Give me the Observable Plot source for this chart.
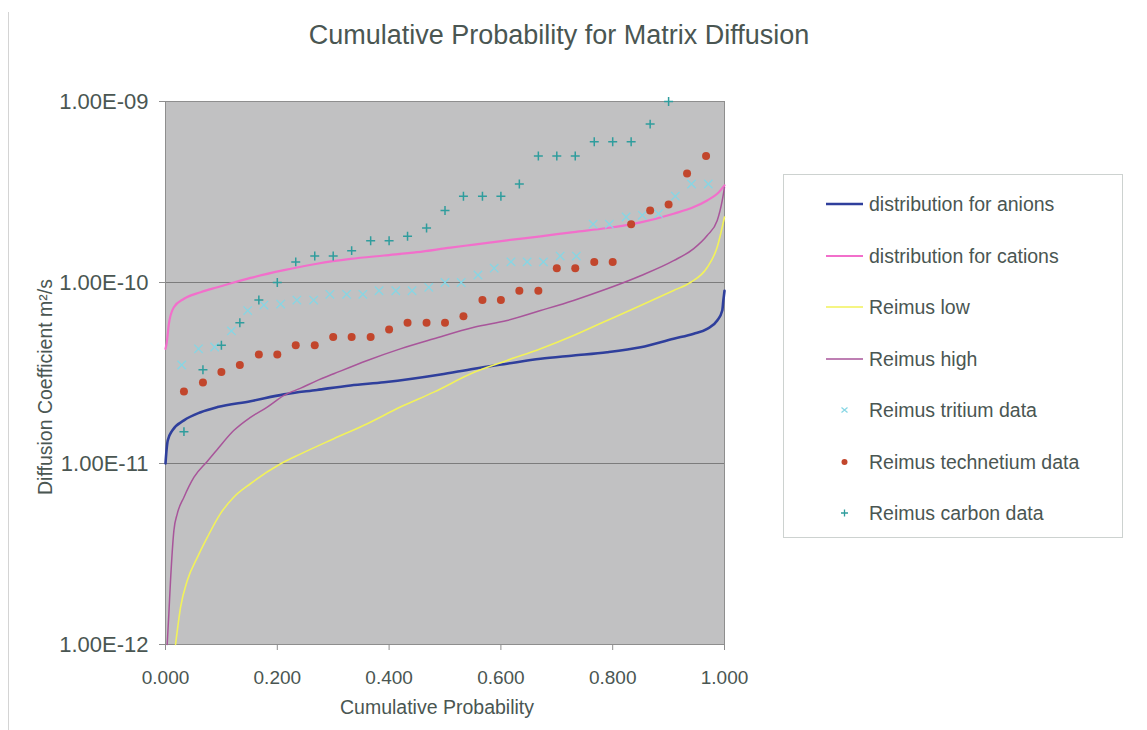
<!DOCTYPE html>
<html>
<head>
<meta charset="utf-8">
<script src="https://cdn.jsdelivr.net/npm/d3@7"></script>
<script src="https://cdn.jsdelivr.net/npm/@observablehq/plot@0.6"></script>
<style>
  body { margin: 0; background: #fff; font-family: "Liberation Sans", Arial, sans-serif; }
  #wrap { position: relative; width: 1147px; height: 730px; overflow: hidden; background: #fff; }
  #edge { position: absolute; left: 8px; top: 12px; width: 0; height: 730px; border-left: 1px solid #d4d4d4; }
  #title { position: absolute; left: 0; top: 20px; width: 1118px; text-align: center; font-size: 27px; color: #4a5652; }
  #chart { position: absolute; left: 0; top: 0; }
  #legend { position: absolute; left: 783px; top: 174px; width: 338px; height: 362px; border: 1px solid #cdd2d0; }
  .row { position: absolute; left: 0; height: 24px; }
  .row svg { position: absolute; left: 42px; top: 2px; }
  .row span { position: absolute; left: 85px; top: 0; font-size: 19.5px; line-height: 24px; white-space: nowrap; color: #4a5652; }
</style>
</head>
<body>
<div id="wrap">
  <div id="edge"></div>
  <div id="title">Cumulative Probability for Matrix Diffusion</div>
  <div id="chart"></div>
  <div id="legend"></div>
</div>
<script>
// Fitted distributions: cumulative probability vs diffusion coefficient (m²/s)
const anionP = [0, 0.002, 0.004, 0.012, 0.033, 0.063, 0.093, 0.152, 0.212, 0.271, 0.331, 0.391, 0.492, 0.552, 0.611, 0.671, 0.730, 0.790, 0.850, 0.909, 0.945, 0.969, 0.987, 0.996, 0.998, 1.0];
const anionD = [1.0e-11, 1.2e-11, 1.34e-11, 1.52e-11, 1.73e-11, 1.92e-11, 2.05e-11, 2.21e-11, 2.41e-11, 2.55e-11, 2.70e-11, 2.81e-11, 3.10e-11, 3.34e-11, 3.56e-11, 3.79e-11, 3.95e-11, 4.12e-11, 4.39e-11, 4.89e-11, 5.21e-11, 5.55e-11, 6.17e-11, 7.0e-11, 8.0e-11, 9.0e-11];

const cationP = [0, 0.002, 0.006, 0.015, 0.033, 0.063, 0.093, 0.122, 0.152, 0.212, 0.271, 0.331, 0.391, 0.450, 0.510, 0.552, 0.611, 0.671, 0.730, 0.790, 0.850, 0.909, 0.945, 0.969, 0.987, 1.0];
const cationD = [4.3e-11, 4.6e-11, 5.9e-11, 7.3e-11, 8.13e-11, 8.84e-11, 9.42e-11, 1.0e-10, 1.06e-10, 1.17e-10, 1.27e-10, 1.35e-10, 1.41e-10, 1.47e-10, 1.56e-10, 1.62e-10, 1.71e-10, 1.80e-10, 1.90e-10, 2.0e-10, 2.15e-10, 2.40e-10, 2.61e-10, 2.84e-10, 3.09e-10, 3.44e-10];

const lowP = [0.018, 0.027, 0.039, 0.057, 0.075, 0.098, 0.122, 0.152, 0.206, 0.242, 0.301, 0.361, 0.420, 0.480, 0.552, 0.611, 0.671, 0.730, 0.790, 0.850, 0.909, 0.939, 0.969, 0.987, 1.0];
const lowD = [1.0e-12, 1.61e-12, 2.26e-12, 3.03e-12, 3.92e-12, 5.27e-12, 6.51e-12, 7.73e-12, 9.96e-12, 1.13e-11, 1.37e-11, 1.66e-11, 2.05e-11, 2.48e-11, 3.19e-11, 3.71e-11, 4.30e-11, 5.09e-11, 6.17e-11, 7.46e-11, 9.04e-11, 1.0e-10, 1.21e-10, 1.57e-10, 2.30e-10];

const highP = [0.003, 0.006, 0.009, 0.015, 0.021, 0.033, 0.051, 0.075, 0.093, 0.122, 0.152, 0.182, 0.212, 0.242, 0.271, 0.301, 0.361, 0.420, 0.480, 0.552, 0.611, 0.671, 0.730, 0.790, 0.850, 0.909, 0.945, 0.969, 0.987, 0.996, 1.0];
const highD = [1.0e-12, 1.48e-12, 2.26e-12, 4.26e-12, 5.27e-12, 6.51e-12, 8.4e-12, 1.03e-11, 1.2e-11, 1.52e-11, 1.80e-11, 2.05e-11, 2.38e-11, 2.61e-11, 2.87e-11, 3.13e-11, 3.71e-11, 4.30e-11, 4.89e-11, 5.66e-11, 6.17e-11, 7.0e-11, 7.96e-11, 9.23e-11, 1.09e-10, 1.32e-10, 1.54e-10, 1.82e-10, 2.2e-10, 2.84e-10, 3.35e-10];

// Measured data (Reimus)
const tritiumP = [0.029, 0.059, 0.088, 0.118, 0.147, 0.176, 0.206, 0.235, 0.265, 0.294, 0.324, 0.353, 0.382, 0.412, 0.441, 0.471, 0.500, 0.529, 0.559, 0.588, 0.618, 0.647, 0.676, 0.706, 0.735, 0.765, 0.794, 0.824, 0.853, 0.882, 0.912, 0.941, 0.971];
const tritiumD = [3.5e-11, 4.3e-11, 4.4e-11, 5.4e-11, 7.0e-11, 7.5e-11, 7.6e-11, 8.0e-11, 8.0e-11, 8.6e-11, 8.6e-11, 8.6e-11, 9.0e-11, 9.0e-11, 9.0e-11, 9.4e-11, 1.0e-10, 1.0e-10, 1.1e-10, 1.2e-10, 1.3e-10, 1.3e-10, 1.3e-10, 1.4e-10, 1.4e-10, 2.1e-10, 2.1e-10, 2.3e-10, 2.35e-10, 2.4e-10, 3.0e-10, 3.5e-10, 3.5e-10];

const techP = [0.033, 0.067, 0.100, 0.133, 0.167, 0.200, 0.233, 0.267, 0.300, 0.333, 0.367, 0.400, 0.433, 0.467, 0.500, 0.533, 0.567, 0.600, 0.633, 0.667, 0.700, 0.733, 0.767, 0.800, 0.833, 0.867, 0.900, 0.933, 0.967];
const techD = [2.5e-11, 2.8e-11, 3.2e-11, 3.5e-11, 4.0e-11, 4.0e-11, 4.5e-11, 4.5e-11, 5.0e-11, 5.0e-11, 5.0e-11, 5.5e-11, 6.0e-11, 6.0e-11, 6.0e-11, 6.5e-11, 8.0e-11, 8.0e-11, 9.0e-11, 9.0e-11, 1.2e-10, 1.2e-10, 1.3e-10, 1.3e-10, 2.1e-10, 2.5e-10, 2.7e-10, 4.0e-10, 5.0e-10];

const carbonP = [0.033, 0.067, 0.100, 0.133, 0.167, 0.200, 0.233, 0.267, 0.300, 0.333, 0.367, 0.400, 0.433, 0.467, 0.500, 0.533, 0.567, 0.600, 0.633, 0.667, 0.700, 0.733, 0.767, 0.800, 0.833, 0.867, 0.900];
const carbonD = [1.5e-11, 3.3e-11, 4.5e-11, 6.0e-11, 8.0e-11, 1.0e-10, 1.3e-10, 1.4e-10, 1.4e-10, 1.5e-10, 1.7e-10, 1.7e-10, 1.8e-10, 2.0e-10, 2.5e-10, 3.0e-10, 3.0e-10, 3.0e-10, 3.5e-10, 5.0e-10, 5.0e-10, 5.0e-10, 6.0e-10, 6.0e-10, 6.0e-10, 7.5e-10, 1.0e-9];

// Axes
const xTicks = [0, 0.2, 0.4, 0.6, 0.8, 1.0];
const yTicks = [1e-12, 1e-11, 1e-10, 1e-9];
const yGrid = [1e-11, 1e-10];
const xTitle = "Cumulative Probability";
const yTitle = "Diffusion Coefficient m²/s";

const seriesNames = ["distribution for anions", "distribution for cations", "Reimus low", "Reimus high", "Reimus tritium data", "Reimus technetium data", "Reimus carbon data"];
const seriesColors = ["#2f3f9c", "#f26fcb", "#f2f25a", "#a8559a", "#86d6e4", "#c2462c", "#2f9d9d"];

const textColor = "#4a5652";
const sciFmt = d => {
  const e = Math.round(Math.log10(d));
  return "1.00E" + (e < 0 ? "-" : "+") + String(Math.abs(e)).padStart(2, "0");
};

const lineOf = (P, D, color, width) =>
  Plot.line(D, {x: (d, i) => P[i], y: d => d, stroke: color, strokeWidth: width, curve: "monotone-x"});

const chart = Plot.plot({
  width: 760,
  height: 730,
  marginLeft: 165,
  marginRight: 36,
  marginTop: 101,
  marginBottom: 86,
  style: {fontFamily: "'Liberation Sans', Arial, sans-serif", fontSize: "19px", color: textColor, background: "transparent", overflow: "visible"},
  x: {domain: [0, 1]},
  y: {type: "log", domain: [1e-12, 1e-9]},
  marks: [
    Plot.frame({fill: "#c1c1c2", stroke: "none"}),
    Plot.ruleY(yGrid, {stroke: "#7c7c7c", strokeWidth: 1}),
    Plot.frame({stroke: "#8e8e8e", strokeWidth: 1}),
    Plot.axisY({ticks: yTicks, tickFormat: sciFmt, tickSize: 6, tickPadding: 11, stroke: "#8e8e8e", fill: textColor, fontSize: 22, label: null}),
    Plot.axisX({ticks: xTicks, tickFormat: d3.format(".3f"), tickSize: 6, tickPadding: 20, stroke: "#8e8e8e", fill: textColor, label: null}),
    lineOf(anionP, anionD, seriesColors[0], 2.6),
    lineOf(cationP, cationD, seriesColors[1], 2.2),
    lineOf(lowP, lowD, seriesColors[2], 1.6),
    lineOf(highP, highD, seriesColors[3], 1.5),
    Plot.dot(tritiumD, {x: (d, i) => tritiumP[i], y: d => d, symbol: "times", r: 3.9, stroke: seriesColors[4], strokeWidth: 1.3}),
    Plot.dot(techD, {x: (d, i) => techP[i], y: d => d, symbol: "circle", r: 4, fill: seriesColors[5], stroke: "none"}),
    Plot.dot(carbonD, {x: (d, i) => carbonP[i], y: d => d, symbol: "plus", r: 3, stroke: seriesColors[6], strokeWidth: 1.5}),
    Plot.text([yTitle], {frameAnchor: "left", textAnchor: "middle", rotate: -90, dx: -120, dy: 14, fontSize: 19.5, fill: textColor}),
    Plot.text([xTitle], {frameAnchor: "bottom", dy: 69, dx: -8, fontSize: 19.5, fill: textColor})
  ]
});
document.getElementById("chart").appendChild(chart);

// Legend
const legend = document.getElementById("legend");
const kinds = ["line", "line", "line", "line", "times", "circle", "plus"];
seriesNames.forEach((name, i) => {
  const row = document.createElement("div");
  row.className = "row";
  row.style.top = (17 + i * 51.5) + "px";
  const c = seriesColors[i];
  let sw = "";
  if (kinds[i] === "line") {
    const w = i === 0 ? 2.6 : i === 1 ? 2.2 : 1.6;
    sw = `<line x1="0" y1="10" x2="37" y2="10" stroke="${c}" stroke-width="${w}"/>`;
  } else if (kinds[i] === "times") {
    sw = `<path d="M15.5,7.5L21.5,12.5M15.5,12.5L21.5,7.5" stroke="${c}" stroke-width="1.2"/>`;
  } else if (kinds[i] === "circle") {
    sw = `<circle cx="18.5" cy="10" r="3" fill="${c}"/>`;
  } else {
    sw = `<path d="M15,10H22M18.5,6.5V13.5" stroke="${c}" stroke-width="1.3"/>`;
  }
  row.innerHTML = `<svg width="40" height="20">${sw}</svg><span>${name}</span>`;
  legend.appendChild(row);
});
</script>
</body>
</html>
